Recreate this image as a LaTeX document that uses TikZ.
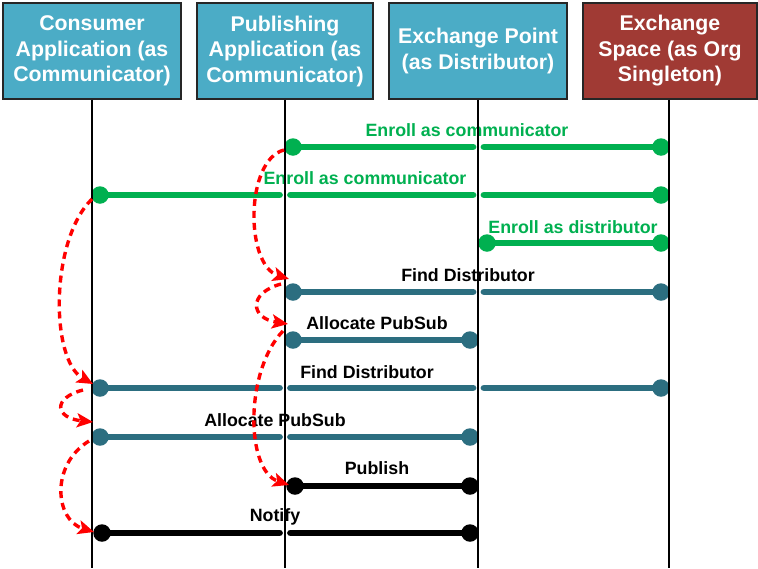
\documentclass[tikz,border=0pt]{standalone}
\usepackage{fontspec}
\setmainfont{Liberation Sans}
\usetikzlibrary{arrows.meta}
\definecolor{boxblue}{RGB}{75,172,198}
\definecolor{boxred}{RGB}{160,58,52}
\definecolor{mteal}{RGB}{44,110,128}
\definecolor{mgreen}{RGB}{0,176,80}
\definecolor{mred}{RGB}{255,0,0}
\tikzset{
  hdr/.style={draw=black!85, line width=1.4pt, minimum width=178pt, minimum height=96pt,
    inner sep=0pt, text=white, align=center, font=\fontsize{21.3}{25.5}\selectfont\bfseries},
  life/.style={line width=2pt, black},
  msg/.style={line width=6.8pt, line cap=round},
  mdot/.style={circle, inner sep=0pt, minimum size=17.5pt},
  lbl/.style={font=\fontsize{17.8}{20}\selectfont\bfseries, inner sep=0pt},
  flow/.style={mred, line width=3.4pt, dash pattern=on 7pt off 5pt,
    -{Stealth[length=16pt,width=14pt,inset=3.5pt]}},
}
\begin{document}
\begin{tikzpicture}[x=1pt,y=-1pt]
\useasboundingbox (0,0) rectangle (758,568);
% headers
\node[hdr, fill=boxblue] (cons) at (92,51) {Consumer\\Application (as\\Communicator)};
\node[hdr, fill=boxblue, minimum width=176pt] (pub) at (285,51) {Publishing\\Application (as\\Communicator)};
\node[hdr, fill=boxblue] (exp) at (478,51) {Exchange Point\\(as Distributor)};
\node[hdr, fill=boxred, minimum width=174pt] (exs) at (670,51) {Exchange\\Space (as Org\\Singleton)};
% lifeline ends
\coordinate (consE) at (92,568);
\coordinate (pubE) at (285,568);
\coordinate (expE) at (478,568);
\coordinate (exsE) at (669,568);
% Row 1: Enroll as communicator (green)
\node[mdot, fill=mgreen] (r1s) at (293,147) {};
\node[mdot, fill=mgreen] (r1e) at (661,147) {};
\coordinate (r1a) at (473,147); \coordinate (r1b) at (484,147);
\draw[msg, mgreen] (r1s) -- (r1a); \draw[msg, mgreen] (r1b) -- (r1e);
\node[lbl, text=mgreen] (l1) at (467,130) {Enroll as communicator};
% Row 2
\node[mdot, fill=mgreen] (r2s) at (100,195) {};
\node[mdot, fill=mgreen] (r2e) at (661,195) {};
\coordinate (r2a) at (279.5,195); \coordinate (r2b) at (290.5,195);
\coordinate (r2c) at (473,195); \coordinate (r2d) at (484,195);
\draw[msg, mgreen] (r2s) -- (r2a); \draw[msg, mgreen] (r2b) -- (r2c); \draw[msg, mgreen] (r2d) -- (r2e);
\node[lbl, text=mgreen] (l2) at (365,178) {Enroll as communicator};
% Row 3
\node[mdot, fill=mgreen] (r3s) at (487,243) {};
\node[mdot, fill=mgreen] (r3e) at (661,243) {};
\draw[msg, mgreen] (r3s) -- (r3e);
\node[lbl, text=mgreen] (l3) at (573,227) {Enroll as distributor};
% Row 4: Find Distributor
\node[mdot, fill=mteal] (r4s) at (293,292) {};
\node[mdot, fill=mteal] (r4e) at (661,292) {};
\coordinate (r4a) at (473,292); \coordinate (r4b) at (484,292);
\draw[msg, mteal] (r4s) -- (r4a); \draw[msg, mteal] (r4b) -- (r4e);
\node[lbl] (l4) at (468,275) {Find Distributor};
% Row 5: Allocate PubSub
\node[mdot, fill=mteal] (r5s) at (293,340) {};
\node[mdot, fill=mteal] (r5e) at (470,340) {};
\draw[msg, mteal] (r5s) -- (r5e);
\node[lbl] (l5) at (377,323) {Allocate PubSub};
% Row 6: Find Distributor
\node[mdot, fill=mteal] (r6s) at (100,388) {};
\node[mdot, fill=mteal] (r6e) at (661,388) {};
\coordinate (r6a) at (279.5,388); \coordinate (r6b) at (290.5,388);
\coordinate (r6c) at (473,388); \coordinate (r6d) at (484,388);
\draw[msg, mteal] (r6s) -- (r6a); \draw[msg, mteal] (r6b) -- (r6c); \draw[msg, mteal] (r6d) -- (r6e);
\node[lbl] (l6) at (367,372) {Find Distributor};
% Row 7: Allocate PubSub
\node[mdot, fill=mteal] (r7s) at (100,437) {};
\node[mdot, fill=mteal] (r7e) at (470,437) {};
\coordinate (r7a) at (279.5,437); \coordinate (r7b) at (290.5,437);
\draw[msg, mteal] (r7s) -- (r7a); \draw[msg, mteal] (r7b) -- (r7e);
\node[lbl] (l7) at (275,420) {Allocate PubSub};
% Row 8: Publish
\node[mdot, fill=black] (r8s) at (295,486) {};
\node[mdot, fill=black] (r8e) at (470,486) {};
\draw[msg, black] (r8s) -- (r8e);
\node[lbl] (l8) at (377,468) {Publish};
% Row 9: Notify
\node[mdot, fill=black] (r9s) at (102,533) {};
\node[mdot, fill=black] (r9e) at (470,533) {};
\coordinate (r9a) at (279.5,533); \coordinate (r9b) at (290.5,533);
\draw[msg, black] (r9s) -- (r9a); \draw[msg, black] (r9b) -- (r9e);
\node[lbl] (l9) at (275,517) {Notify};
% lifelines
\draw[life] (cons.south) -- (consE);
\draw[life] (pub.south) -- (pubE);
\draw[life] (exp.south) -- (expE);
\draw[life] (exs.south -| exsE) -- (exsE);
% red flow arrows
\coordinate (a1s) at (284,150); \coordinate (a1e) at (289,279);
\coordinate (a2s) at (281,284); \coordinate (a2e) at (288,324);
\coordinate (a3s) at (283,331); \coordinate (a3e) at (289,485);
\coordinate (b1s) at (92,199);  \coordinate (b1e) at (93,384);
\coordinate (b2s) at (83,390);  \coordinate (b2e) at (93,422);
\coordinate (b3s) at (89,441);  \coordinate (b3e) at (94,532);
\draw[flow] (a1s) .. controls (245,160) and (245,265) .. (a1e);
\draw[flow] (a2s) .. controls (248,293) and (250,318) .. (a2e);
\draw[flow] (a3s) .. controls (245,370) and (245,470) .. (a3e);
\draw[flow] (b1s) .. controls (50,240) and (50,360) .. (b1e);
\draw[flow] (b2s) .. controls (52,398) and (55,418) .. (b2e);
\draw[flow] (b3s) .. controls (50,465) and (55,520) .. (b3e);
\end{tikzpicture}
\end{document}
